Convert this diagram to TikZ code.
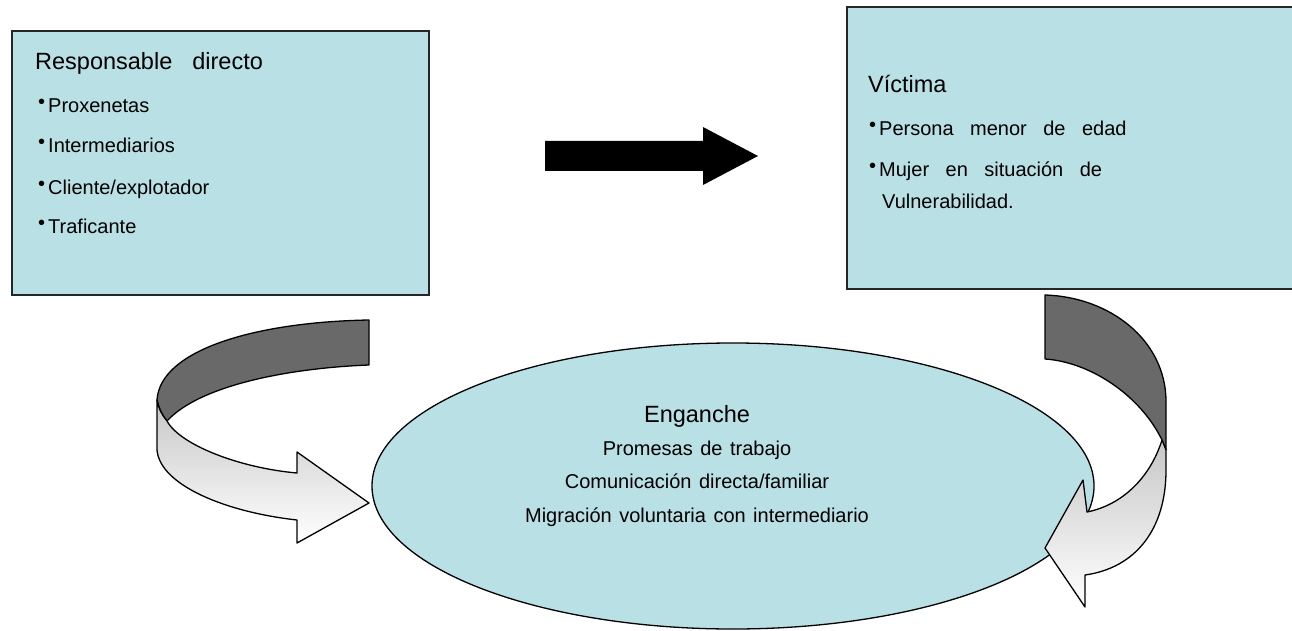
\documentclass[tikz,border=0pt]{standalone}
\usepackage{fontspec}
\setmainfont{Liberation Sans}
\usetikzlibrary{shapes.geometric,positioning}
\definecolor{cajaazul}{RGB}{185,224,228}
\definecolor{cintagris}{RGB}{105,105,105}
\newcommand{\bul}{\raisebox{4pt}{\fontsize{20}{20}\selectfont •}\hspace{3pt}}
\newcommand{\anchos}[1]{\spaceskip=#1\relax}

\begin{document}
\begin{tikzpicture}[
x=1pt, y=-1pt,
caja/.style={draw=black!85, line width=1.8pt, fill=cajaazul, inner sep=0pt},
titulo/.style={anchor=base west, inner sep=0pt, font=\fontsize{23.5}{28}\selectfont},
item/.style={anchor=base west, inner sep=0pt, font=\fontsize{20}{24}\selectfont},
linea/.style={anchor=base, inner sep=0pt, font=\fontsize{20}{24}\selectfont},
cinta/.style={draw=black, line width=1.3pt, line join=round}
]
    \useasboundingbox (0,0) rectangle (1292,631);

    % Cajas
    \node[caja, minimum width=417pt, minimum height=264pt] (resp) at (220.5,163) {};
    \node[caja, minimum width=453pt, minimum height=282pt] (victima) at (1073.5,148) {};

    \node[titulo] (resptit) at (35,70) {Responsable\hspace{20pt}directo};
    \node[item] (prox) at (38,113) {\bul Proxenetas};
    \node[item] (inter) at (38,153) {\bul Intermediarios};
    \node[item] (cliente) at (38,194) {\bul Cliente/explotador};
    \node[item] (trafic) at (38,233) {\bul Traficante};

    \node[titulo] (victit) at (868,93) {Víctima};
    \node[item] (menor) at (869,136) {\anchos{16.5pt}\bul Persona menor de edad};
    \node[item] (mujer) at (869,177) {\anchos{16.5pt}\bul Mujer en situación de};
    \node[item] (vulner) at (882,208) {Vulnerabilidad.};

    % Flecha negra
    \fill (545,141) -- (703,141) -- (703,127) -- (758,156) -- (703,185) -- (703,171) -- (545,171) -- cycle;

    % Elipse
    \node[draw, ellipse, fill=cajaazul, line width=1.3pt, inner sep=0pt,
          minimum width=722pt, minimum height=286pt] (engan) at (733,486) {};
    \node[titulo, anchor=base] (engtit) at (697,422) {Enganche};
    \node[linea] (promesas) at (697,455) {\anchos{7.5pt}Promesas de trabajo};
    \node[linea] (comunic) at (697,488) {\anchos{7.5pt}Comunicación directa/familiar};
    \node[linea] (migra) at (697,522) {\anchos{7.5pt}Migración voluntaria con intermediario};

    % Flecha curva izquierda
    \filldraw[cinta, fill=cintagris]
      (369,320) .. controls (255,322) and (160,350) .. (157,400)
      .. controls (159,408) and (162,415) .. (167,421)
      .. controls (200,385) and (290,368) .. (369,365) -- cycle;
    \shadedraw[cinta, top color=black!22, bottom color=white]
      (157,400) -- (157,450) .. controls (160,485) and (225,512) .. (297,520)
      -- (297,543) -- (369,503) -- (297,452) -- (297,473)
      .. controls (240,468) and (180,445) .. (167,421)
      .. controls (162,415) and (158,408) .. (157,400) -- cycle;

    % Flecha curva derecha
    \filldraw[cinta, fill=cintagris]
      (1045,295) .. controls (1110,297) and (1165,340) .. (1166,400)
      -- (1166,450) -- (1162,440)
      .. controls (1140,395) and (1090,362) .. (1045,359) -- cycle;
    \shadedraw[cinta, top color=black!22, bottom color=white]
      (1162,440) .. controls (1150,478) and (1122,505) .. (1087,512)
      -- (1083,480) -- (1045,548) -- (1085,607) -- (1085,575)
      .. controls (1135,568) and (1166,530) .. (1166,470)
      -- (1166,450) -- cycle;

\end{tikzpicture}
\end{document}
